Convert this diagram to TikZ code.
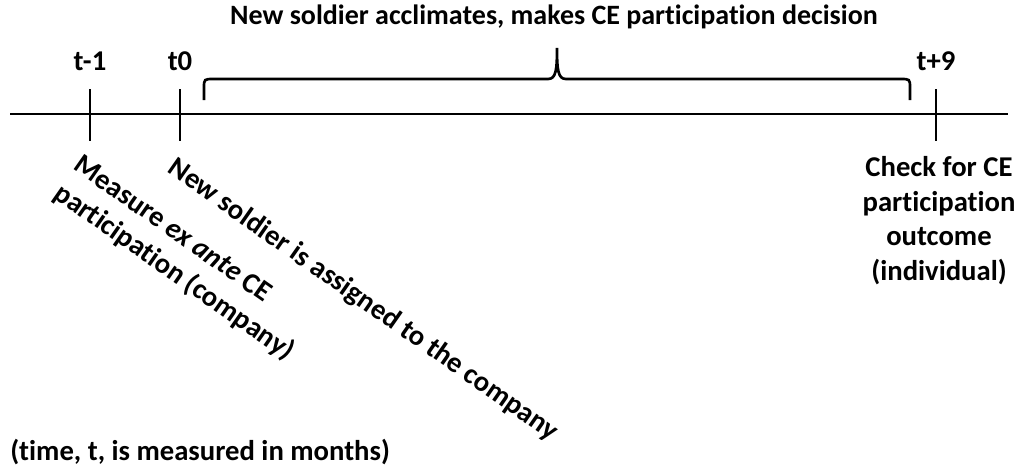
\documentclass[tikz,border=0pt]{standalone}
\usepackage{fontspec}
\setmainfont{Carlito}[Ligatures=NoCommon]
\begin{document}
\begin{tikzpicture}[x=0.75pt,y=-0.75pt,
  axis/.style={line width=2pt},
  lbl/.style={font=\fontsize{21.5}{26}\selectfont\bfseries, inner sep=0pt, align=center}]
\useasboundingbox (0,0) rectangle (1018,468);
% axis
\coordinate (L) at (10,114);
\coordinate (R) at (1008,114);
\draw[axis] (L) -- (R);
% ticks
\coordinate (a1) at (90,89);  \coordinate (a2) at (90,141);
\coordinate (b1) at (180,89); \coordinate (b2) at (180,141);
\coordinate (c1) at (936,89); \coordinate (c2) at (936,141);
\draw[axis] (a1) -- (a2);
\draw[axis] (b1) -- (b2);
\draw[axis] (c1) -- (c2);
% tick labels
\node[lbl] (tm1) at (90,61) {t-1};
\node[lbl] (t0) at (180,61) {t0};
\node[lbl] (tp9) at (936,61) {t+9};
% brace
\coordinate (bl) at (204,100);
\coordinate (br) at (910,100);
\coordinate (bt) at (557,48);
\draw[axis] (bl) -- (204,88) .. controls (204,79) .. (214,79) -- (548,79)
  .. controls (556,79) and (557,70) .. (bt)
  .. controls (557,70) and (558,79) .. (566,79) -- (900,79)
  .. controls (910,79) .. (910,88) -- (br);
% title
\node[lbl, font=\fontsize{21}{26}\selectfont\bfseries] (title) at (554,17) {New soldier acclimates, makes CE participation decision};
% rotated labels
\node[lbl, align=left, rotate=-35, anchor=north west] (measure) at (83,153) {Measure \textit{ex ante} CE\\participation (company)};
\node[lbl, rotate=-35, anchor=north west] (assign) at (178,155) {New soldier is assigned to the company};
% right label
\node[lbl, anchor=north] (check) at (939,156) {Check for CE\\participation\\outcome\\(individual)};
% note
\node[lbl, anchor=west] (note) at (10,452) {(time, t, is measured in months)};
\end{tikzpicture}
\end{document}
